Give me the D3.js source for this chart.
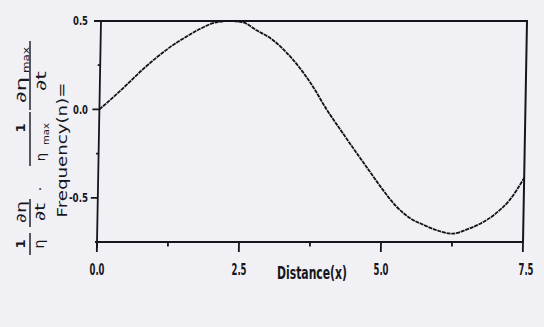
<!DOCTYPE html>
<html>
<head>
<meta charset="utf-8">
<script src="https://cdn.jsdelivr.net/npm/d3@7/dist/d3.min.js"></script>
<style>
  html, body { margin: 0; padding: 0; background: #f1f0f4; }
  svg { display: block; }
</style>
</head>
<body>
<svg id="chart" width="544" height="327"></svg>
<script>
// Distance along the channel and the normalised frequency at each point
const distance = [0, 0.25, 0.5, 0.75, 1.0, 1.25, 1.5, 1.75, 2.0, 2.25, 2.5, 2.75, 3.0,
                  3.25, 3.5, 3.75, 4.0, 4.25, 4.5, 4.75, 5.0, 5.25, 5.5, 5.75, 6.0,
                  6.25, 6.5, 6.75, 7.0, 7.25, 7.5];
const frequency = [0.0, 0.072, 0.148, 0.226, 0.296, 0.358, 0.41, 0.456, 0.49, 0.5, 0.492, 0.446, 0.4,
                   0.33, 0.24, 0.13, 0.0, -0.115, -0.228, -0.338, -0.448, -0.546, -0.614, -0.654, -0.686,
                   -0.703, -0.68, -0.645, -0.592, -0.513, -0.388];

const xTicks = [0, 2.5, 5, 7.5];
const xTickLabels = ["0.0", "2.5", "5.0", "7.5"];
const xMinorTicks = [1.25, 3.75, 6.25];
const yTicks = [0.5, 0, -0.5];
const yTickLabels = ["0.5", "0.0", "-0.5"];
const yMinorTicks = [0.25, -0.25];

const svg = d3.select("#chart");
const ink = "#15161d";
const condensed = "'DejaVu Sans Condensed', 'Liberation Sans Narrow', 'DejaVu Sans', sans-serif";

const plotLeft = 97, plotRight = 523, plotTop = 21, plotBottom = 242;
const x = d3.scaleLinear().domain([0, 7.5]).range([plotLeft, plotRight]);
const y = d3.scaleLinear().domain([-0.75, 0.5]).range([plotBottom, plotTop]);

// The plotted frame leans slightly to the right towards the top
const lean = -Math.atan(4 / 221) * 180 / Math.PI;
const plot = svg.append("g")
  .attr("transform", `translate(0,${plotBottom}) skewX(${lean}) translate(0,${-plotBottom})`);

// Frame: top and right borders
plot.append("path")
  .attr("d", `M${x(0)},${y(0.5)} H${x(7.5)} V${y(-0.75)}`)
  .attr("fill", "none").attr("stroke", ink).attr("stroke-width", 2);

// Left axis line with ticks pointing outward
plot.append("line")
  .attr("x1", x(0)).attr("x2", x(0))
  .attr("y1", y(0.5)).attr("y2", y(-0.75) + 6)
  .attr("stroke", ink).attr("stroke-width", 1.8);
plot.selectAll(".ytick").data(yTicks).join("line")
  .attr("x1", x(0) - 7).attr("x2", x(0))
  .attr("y1", d => y(d)).attr("y2", d => y(d))
  .attr("stroke", ink).attr("stroke-width", 1.8);
plot.selectAll(".yminor").data(yMinorTicks).join("line")
  .attr("x1", x(0) - 2.5).attr("x2", x(0))
  .attr("y1", d => y(d)).attr("y2", d => y(d))
  .attr("stroke", ink).attr("stroke-width", 1.8);

// Bottom axis line with downward ticks
plot.append("line")
  .attr("x1", x(0) - 2).attr("x2", x(7.5))
  .attr("y1", y(-0.75)).attr("y2", y(-0.75))
  .attr("stroke", ink).attr("stroke-width", 1.8);
plot.selectAll(".xtick").data(xTicks).join("line")
  .attr("x1", d => x(d)).attr("x2", d => x(d))
  .attr("y1", y(-0.75)).attr("y2", y(-0.75) + 10)
  .attr("stroke", ink).attr("stroke-width", 1.8);
plot.selectAll(".xminor").data(xMinorTicks).join("line")
  .attr("x1", d => x(d)).attr("x2", d => x(d))
  .attr("y1", y(-0.75)).attr("y2", y(-0.75) + 4.5)
  .attr("stroke", ink).attr("stroke-width", 1.8);

// Frequency curve
const line = d3.line()
  .x((d, i) => x(distance[i]))
  .y(d => y(d))
  .curve(d3.curveMonotoneX);
plot.append("path")
  .datum(frequency)
  .attr("d", line)
  .attr("fill", "none")
  .attr("stroke", "#111116")
  .attr("stroke-width", 1.8)
  .attr("stroke-dasharray", "4 0.8");

// Tick labels, drawn narrow and tall
function tallText(str, xp, yp, size, len, anchor, stretch) {
  return svg.append("text")
    .attr("transform", `translate(${xp},${yp}) scale(1,${stretch})`)
    .attr("text-anchor", anchor)
    .attr("font-family", condensed).attr("font-weight", "bold").attr("font-size", size)
    .attr("textLength", len).attr("lengthAdjust", "spacingAndGlyphs")
    .attr("fill", ink)
    .text(str);
}
yTicks.forEach((d, i) => {
  const lab = yTickLabels[i];
  tallText(lab, 88 - (lab.length > 3 ? 19 : 15), y(d) + 4.3, 10, lab.length > 3 ? 19 : 15, "start", 1.2);
});
xTicks.forEach((d, i) => {
  tallText(xTickLabels[i], x(d) - 7.5 + (d === 7.5 ? 3 : 0), 275, 11, 15, "start", 1.4);
});

// Axis title
tallText("Distance(x)", 277, 279, 13, 70, "start", 1.38);

// Vertical axis title: Frequency(n) = (1/η)(∂η/∂t) · (1/η_max)(∂η_max/∂t)
const sans = "'DejaVu Sans', 'Noto Sans', sans-serif";
function vtext(str, cx, cy, size, len, weight) {
  const t = svg.append("text")
    .attr("transform", `translate(${cx},${cy}) rotate(-90)`)
    .attr("text-anchor", "middle")
    .attr("dominant-baseline", "central")
    .attr("font-family", sans)
    .attr("font-size", size)
    .attr("font-weight", weight || "normal")
    .attr("fill", ink)
    .text(str);
  if (len) t.attr("textLength", len).attr("lengthAdjust", "spacingAndGlyphs");
  return t;
}
function vbar(xp, y1, y2) {
  svg.append("line").attr("x1", xp).attr("x2", xp).attr("y1", y1).attr("y2", y2)
    .attr("stroke", ink).attr("stroke-width", 1.4);
}

vtext("Frequency(n)=", 62, 150, 14, 135);

// (1/η)
vtext("1", 20, 244, 13, null, "bold");
vbar(30, 233, 255);
vtext("η", 39, 244, 14);
// (∂η/∂t)
vtext("∂η", 21, 212, 14, 22);
vbar(30, 199, 227);
vtext("∂t", 40, 212, 14, 18);
vtext("·", 40, 189, 14);
// (1/η_max)
vtext("1", 20, 128, 13, null, "bold");
vbar(30, 112, 166);
vtext("η", 40, 157, 13);
vtext("max", 46, 134, 8, 22);
// (∂η_max/∂t)
vtext("∂η", 21, 90, 14, 26);
vtext("max", 26, 60, 8, 26);
vbar(30, 41, 110);
vtext("∂t", 41, 81, 14, 20);
</script>
</body>
</html>
